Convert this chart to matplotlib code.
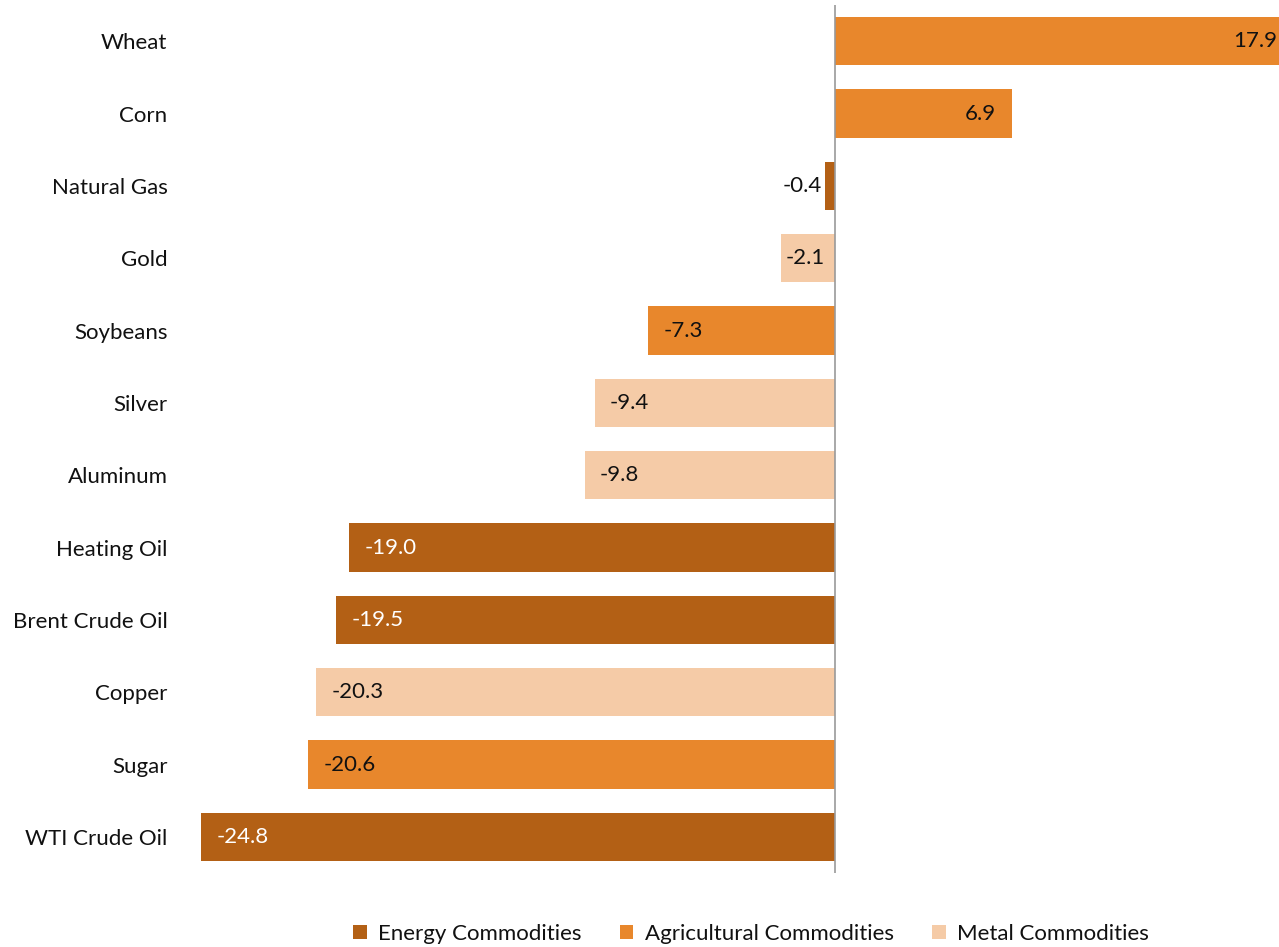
import matplotlib
matplotlib.use("Agg")
import matplotlib.pyplot as plt
from matplotlib.patches import Patch

categories = ["Wheat", "Corn", "Natural Gas", "Gold", "Soybeans", "Silver", "Aluminum",
              "Heating Oil", "Brent Crude Oil", "Copper", "Sugar", "WTI Crude Oil"]
values = [17.9, 6.9, -0.4, -2.1, -7.3, -9.4, -9.8, -19.0, -19.5, -20.3, -20.6, -24.8]
groups = ["Agricultural", "Agricultural", "Energy", "Metal", "Agricultural", "Metal", "Metal",
          "Energy", "Energy", "Metal", "Agricultural", "Energy"]
group_names = ["Energy", "Agricultural", "Metal"]
legend_labels = ["Energy Commodities", "Agricultural Commodities", "Metal Commodities"]
colors = {"Energy": "#B36015", "Agricultural": "#E8872C", "Metal": "#F5CBA7"}
text_colors = {"Energy": "white", "Agricultural": "#111111", "Metal": "#111111"}

plt.rcParams['font.family'] = ['Lato', 'DejaVu Sans']
W, H = 1279, 947
fig = plt.figure(figsize=(W / 100, H / 100), dpi=100)
ax = fig.add_axes([180 / W, 1 - 873 / H, (1279 - 180) / W, (873 - 5) / H])

n = len(categories)
ypos = list(range(n - 1, -1, -1))
xmin, xmax = -25.62, 17.36
ax.barh(ypos, values, height=0.67, color=[colors[g] for g in groups], zorder=2)
ax.set_xlim(xmin, xmax)
ax.set_ylim(-0.5, n - 0.5)
ax.axvline(0, color="#999999", lw=1.2, zorder=3)

fs = 16
for y, v, g in zip(ypos, values, groups):
    tc = text_colors[g]
    if v >= 0:
        ax.text(v - 0.62, y, f"{v:.1f}", ha="right", va="center", fontsize=fs, color=tc, zorder=4,
                clip_on=False)
    elif v > -1:
        ax.text(v - 0.1, y, f"{v:.1f}", ha="right", va="center", fontsize=fs, color="#111111", zorder=4)
    elif v > -3:
        ax.text(v + 0.18, y, f"{v:.1f}", ha="left", va="center", fontsize=fs, color=tc, zorder=4)
    else:
        ax.text(v + 0.6, y, f"{v:.1f}", ha="left", va="center", fontsize=fs, color=tc, zorder=4)

ax.set_yticks(ypos)
ax.set_yticklabels(categories, fontsize=fs, color="#111111")
ax.tick_params(axis="y", length=0, pad=9)
ax.set_xticks([])
for s in ax.spines.values():
    s.set_visible(False)

handles = [Patch(facecolor=colors[g], edgecolor="none") for g in group_names]
fig.legend(handles, legend_labels, loc="center", bbox_to_anchor=(751 / W, 1 - 934 / H), ncol=3,
           frameon=False, fontsize=16, handlelength=0.6, handleheight=0.6, handletextpad=0.5,
           columnspacing=1.75, labelcolor="#111111")

fig.savefig("out.png", dpi=100)
